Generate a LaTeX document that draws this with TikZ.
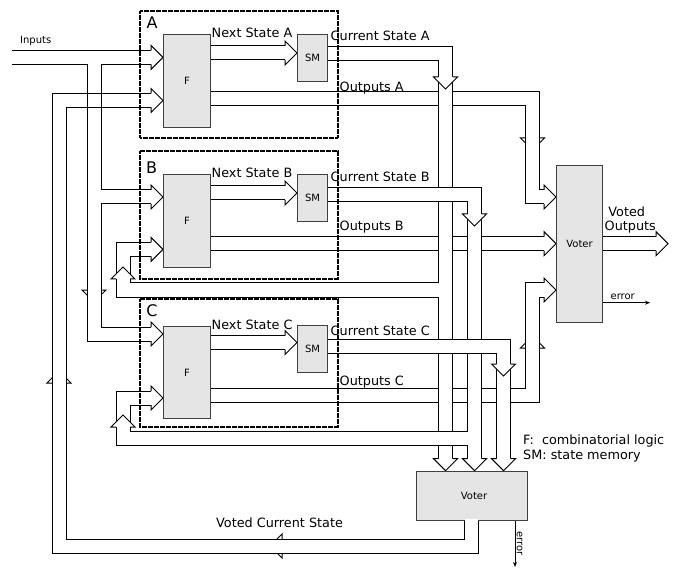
\documentclass[tikz,border=0pt]{standalone}
\usepackage{fontspec}
\setmainfont{DejaVu Sans}
\usetikzlibrary{arrows.meta}
\newcommand\busnet[1]{\draw[bo] #1;\draw[bi] #1;}
\newcommand\hR[2]{\filldraw[hd] (#1-12,#2-7) -- (#1-12,#2-12) -- (#1,#2) -- (#1-12,#2+12) -- (#1-12,#2+7);}
\newcommand\hL[2]{\filldraw[hd] (#1+12,#2-7) -- (#1+12,#2-12) -- (#1,#2) -- (#1+12,#2+12) -- (#1+12,#2+7);}
\newcommand\hD[2]{\filldraw[hd] (#1-7,#2-12) -- (#1-12,#2-12) -- (#1,#2) -- (#1+12,#2-12) -- (#1+7,#2-12);}
\newcommand\hU[2]{\filldraw[hd] (#1-7,#2+12) -- (#1-12,#2+12) -- (#1,#2) -- (#1+12,#2+12) -- (#1+7,#2+12);}
\begin{document}
\begin{tikzpicture}[x=1pt,y=-1pt,
  bo/.style={line width=15pt, draw=black, line join=miter, line cap=butt},
  bi/.style={line width=13pt, draw=white, line join=miter, line cap=butt},
  hd/.style={fill=white, draw=black, line width=1pt, line join=miter},
  blk/.style={fill=black!10, draw=black!75, line width=1pt},
  modbox/.style={draw=black, line width=1.5pt, dash pattern=on 0.9pt off 0.3pt},
  lab/.style={font=\fontsize{12.8}{15}\selectfont, inner sep=0pt},
  sml/.style={font=\fontsize{10}{12}\selectfont, inner sep=0pt},
  big/.style={font=\fontsize{16}{18}\selectfont, inner sep=0pt},
  thin/.style={line width=1pt}]
\useasboundingbox[fill=white] (0,0) rectangle (677,569);

% Voted current state (feedback to A)
\hL{270}{546}
\hU{59}{371}
\busnet{(471.3,519.5) -- (471.3,546) -- (59,546) -- (59,100.5) -- (151,100.5)}
\hR{163}{100.5}

% Inputs
\hD{94}{302}
\busnet{(12,57.3) -- (151,57.3) (94,57.3) -- (94,334) -- (151,334) (94,197) -- (151,197)}
\hR{163}{57.3}
\hR{163}{197}
\hR{163}{334}
\draw[thin] (87,93.5) -- (101,93.5) (87,107.5) -- (101,107.5);

% Outputs
\hD{532.5}{150}
\busnet{(210,98.7) -- (532.5,98.7) -- (532.5,197) -- (544,197)}
\hR{556}{197}
\busnet{(210,243.7) -- (544,243.7)}
\hR{556}{243.7}
\hU{532.5}{336}
\busnet{(210,395.5) -- (532.5,395.5) -- (532.5,290) -- (544,290)}
\hR{556}{290}

% Next state
\busnet{(210,53) -- (285,53)}
\hR{297}{53}
\busnet{(210,193) -- (285,193)}
\hR{297}{193}
\busnet{(210,342.5) -- (285,342.5)}
\hR{297}{342.5}

% Voted outputs
\busnet{(602,243.7) -- (656,243.7)}
\hR{668}{243.7}

% Current state A (+ feedback B)
\busnet{(327,54) -- (445.5,54) -- (445.5,458.7) (445.5,290) -- (123,290) -- (123,249.3) -- (151,249.3)}
\hD{445.5}{470.7}
\hR{163}{249.3}
\hD{445.5}{89}
\hU{123}{267}

% Current state B (+ feedback C)
\busnet{(327,194.5) -- (474.5,194.5) -- (474.5,458.7) (474.5,438.7) -- (123,438.7) -- (123,398) -- (151,398)}
\hD{474.5}{470.7}
\hR{163}{398}
\hD{474.5}{226}
\hU{123}{415}

% Current state C
\busnet{(327,346.5) -- (503.5,346.5) -- (503.5,458.7)}
\hD{503.5}{470.7}
\hD{503.5}{376}

% boxes
\node[blk, anchor=north west, minimum width=47pt, minimum height=93pt] (FA) at (163,34) {};
\node[blk, anchor=north west, minimum width=47pt, minimum height=93pt] (FB) at (163,174) {};
\node[blk, anchor=north west, minimum width=47pt, minimum height=92pt] (FC) at (163,326) {};
\node[sml] at (FA) {F};
\node[sml] at (FB) {F};
\node[sml] at (FC) {F};
\node[blk, anchor=north west, minimum width=30pt, minimum height=47pt] (SMA) at (297,34) {};
\node[blk, anchor=north west, minimum width=30pt, minimum height=47pt] (SMB) at (297,174) {};
\node[blk, anchor=north west, minimum width=30pt, minimum height=47pt] (SMC) at (297,325) {};
\node[sml] at (SMA) {SM};
\node[sml] at (SMB) {SM};
\node[sml] at (SMC) {SM};
\node[blk, anchor=north west, minimum width=46.6pt, minimum height=156.7pt] (VR) at (555.7,165) {};
\node[sml] at (VR) {Voter};
\node[blk, anchor=north west, minimum width=110.7pt, minimum height=49.3pt] (VB) at (416,470.7) {};
\node[sml] at (474,495.5) {Voter};
\draw[bi, line width=13pt] (471.3,519) -- (471.3,521.5);

% error outputs
\coordinate (e1) at (650,302.7);
\coordinate (e2) at (515,567);
\draw[thin, -{Stealth[length=5pt,width=4pt]}] (VR.east |- e1) -- (e1);
\draw[thin, -{Stealth[length=5pt,width=4pt]}] (VB.south -| e2) -- (e2);
\node[sml] at (622.7,297) {error};
\node[sml, rotate=-90] at (519.5,543.5) {error};

% module borders
\draw[modbox] (140,11) rectangle (338,138);
\draw[modbox] (140,151) rectangle (338,279);
\draw[modbox] (140,299) rectangle (338,427);

% labels
\node[big] at (152,22.8) {A};
\node[big] at (151.5,167.8) {B};
\node[big] at (152,310.3) {C};
\node[sml, anchor=base west] at (20,43.3) {Inputs};
\node[lab, anchor=west] at (211.5,33.3) {Next State A};
\node[lab, anchor=west] at (211.5,173.3) {Next State B};
\node[lab, anchor=west] at (211.5,324.5) {Next State C};
\node[lab, anchor=west] at (330.5,36) {Current State A};
\node[lab, anchor=west] at (330.5,176.5) {Current State B};
\node[lab, anchor=west] at (330.5,330.5) {Current State C};
\node[lab, anchor=base west] at (339.5,91.5) {Outputs A};
\node[lab, anchor=base west] at (339.5,231) {Outputs B};
\node[lab, anchor=base west] at (339.5,385) {Outputs C};
\node[lab] at (626.7,212) {Voted};
\node[lab, anchor=base] at (630.3,230.5) {Outputs};
\node[lab, anchor=west] at (216,522.5) {Voted Current State};
\node[lab, anchor=base west] at (523,444) {F:\ \ combinatorial logic};
\node[lab, anchor=base west] at (523,459) {SM:\ state memory};
\end{tikzpicture}
\end{document}
